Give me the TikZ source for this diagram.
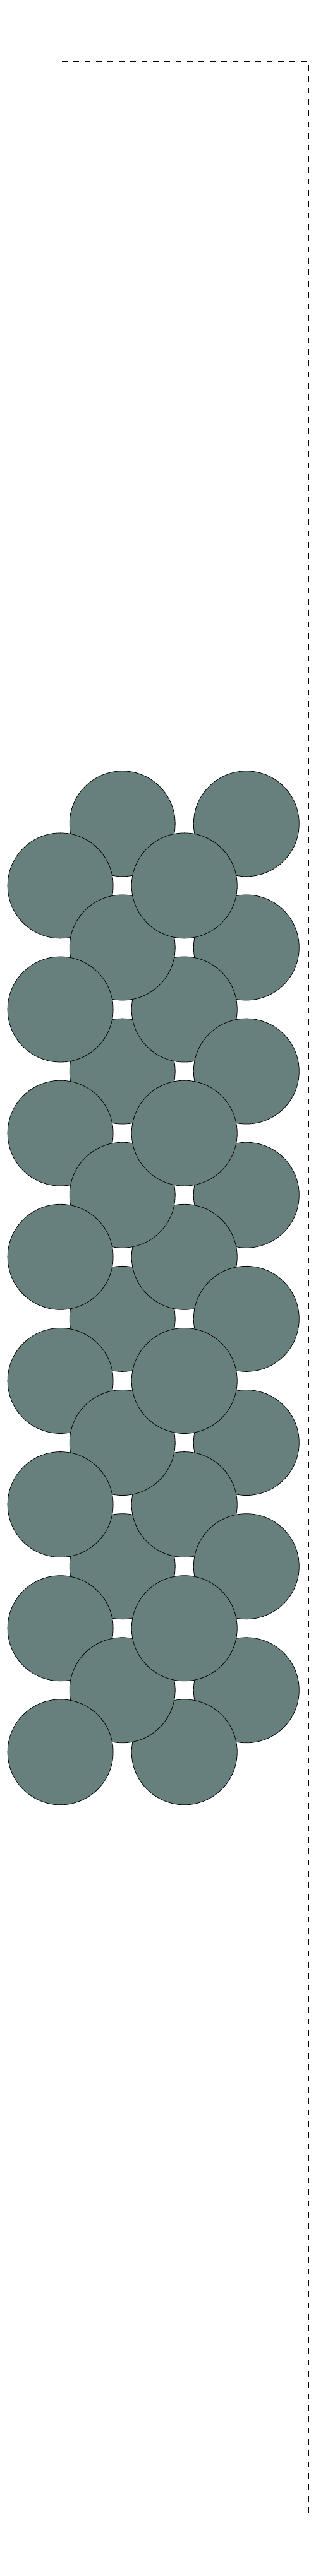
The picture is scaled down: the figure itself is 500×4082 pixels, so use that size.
\documentclass[tikz,border=0pt]{standalone}
\definecolor{ballc}{RGB}{103,128,125}
\begin{document}
\begin{tikzpicture}[x=1pt,y=-1pt,
  ball/.style={circle, draw=black, line width=0.8pt, fill=ballc, minimum size=167pt, inner sep=0pt},
  frame/.style={draw=black, line width=0.9pt, dash pattern=on 9pt off 9pt}]
\useasboundingbox (0,0) rectangle (500,4082);
\foreach \n/\c/\r in {r0c2/2/0, r0c4/4/0, r2c4/4/2, r4c2/2/4, r6c4/4/6, r8c2/2/8, r10c4/4/10, r12c2/2/12, r14c4/4/14,
  r1c1/1/1, r3c3/3/3, r2c2/2/2, r1c3/3/1, r4c4/4/4, r5c1/1/5, r7c3/3/7, r6c2/2/6, r5c3/3/5,
  r8c4/4/8, r9c1/1/9, r11c3/3/11, r10c2/2/10, r9c3/3/9, r12c4/4/12, r13c1/1/13, r15c3/3/15, r14c2/2/14, r13c3/3/13}
  \node[ball] (\n) at ({95.6+98.07*(\c-1)},{1305.3+98.07*\r}) {};
\draw[frame] (96.3,97.3) rectangle (488.7,3985.3);
\foreach \n/\c/\r in {r3c1/1/3, r7c1/1/7, r11c1/1/11, r15c1/1/15}
  \node[ball] (\n) at ({95.6+98.07*(\c-1)},{1305.3+98.07*\r}) {};
\end{tikzpicture}
\end{document}
